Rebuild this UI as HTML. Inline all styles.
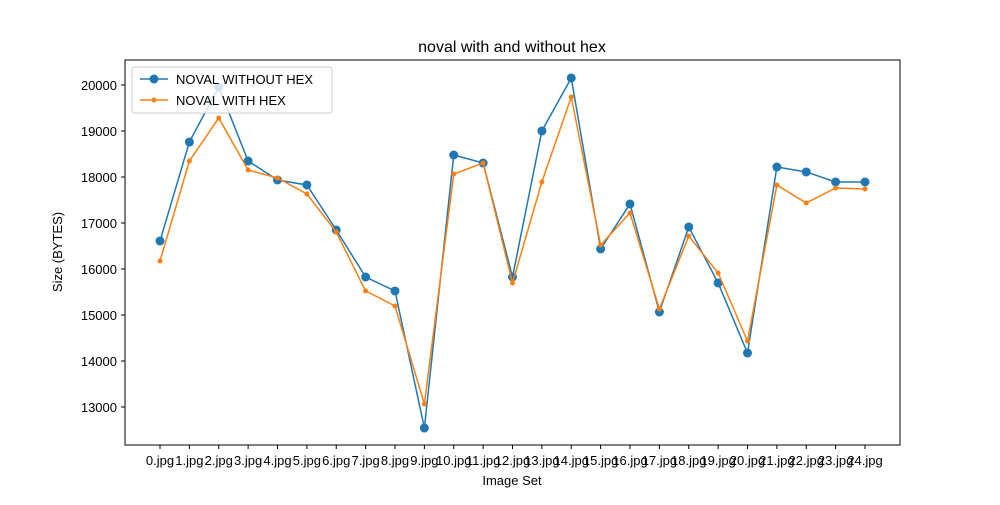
<!DOCTYPE html>
<html><head><meta charset="utf-8"><style>
body{margin:0;background:#fff;font-family:"Liberation Sans","DejaVu Sans",sans-serif}
svg text{font-family:"Liberation Sans","DejaVu Sans",sans-serif;font-size:13px;fill:#000}
</style></head><body>
<svg id="chart" width="1000" height="500">
<text x="512" y="52" text-anchor="middle" style="font-size:16px">noval with and without hex</text>
<g id="grid"></g>
<rect x="125" y="60" width="775" height="385" fill="none" stroke="#000" stroke-width="1"/>
<text x="512" y="485" text-anchor="middle">Image Set</text>
<text transform="translate(62,252) rotate(-90)" text-anchor="middle">Size (BYTES)</text>
<g id="series"></g>
<g>
<rect x="132" y="67" width="200" height="46" fill="#fff" fill-opacity="0.8" stroke="#ccc" rx="3"/>
<line x1="140" y1="79" x2="168" y2="79" stroke="#1f77b4" stroke-width="1.5"/><circle cx="154" cy="79" r="4.5" fill="#1f77b4"/>
<text x="176" y="84">NOVAL WITHOUT HEX</text>
<line x1="140" y1="100" x2="168" y2="100" stroke="#ff7f0e" stroke-width="1.5"/><circle cx="154" cy="100" r="2.5" fill="#ff7f0e"/>
<text x="176" y="105">NOVAL WITH HEX</text>
</g>
</svg>
<script>
const categories=["0.jpg","1.jpg","2.jpg","3.jpg","4.jpg","5.jpg","6.jpg","7.jpg","8.jpg","9.jpg","10.jpg","11.jpg","12.jpg","13.jpg","14.jpg","15.jpg","16.jpg","17.jpg","18.jpg","19.jpg","20.jpg","21.jpg","22.jpg","23.jpg","24.jpg"];
const withoutHex=[16609,18760,19957,18348,17935,17826,16848,15826,15522,12543,18478,18304,15826,19000,20152,16435,17413,15065,16913,15696,14174,18217,18109,17891,17891];
const withHex=[16174,18348,19283,18152,17978,17630,16804,15522,15196,13065,18065,18304,15696,17891,19739,16522,17217,15130,16717,15913,14435,17826,17435,17761,17739];
const yTicks=[13000,14000,15000,16000,17000,18000,19000,20000];
const NS="http://www.w3.org/2000/svg";
const yMin=12174,yMax=20543;
function xs(i){return 160+i*(865-160)/(categories.length-1);}
function ys(v){return 445-(v-yMin)/(yMax-yMin)*385;}
function mk(t,a,p){const e=document.createElementNS(NS,t);for(const k in a)e.setAttribute(k,a[k]);p.appendChild(e);return e;}
const g=document.getElementById('grid');
yTicks.forEach(v=>{
 const l=mk('line',{x1:121,x2:125,y1:ys(v),y2:ys(v),stroke:'#000'},g);
 
 
 const t=mk('text',{x:117,y:ys(v)+5,'text-anchor':'end'},g);t.textContent=v;
 
 
});
categories.forEach((c,i)=>{
 const l=mk('line',{x1:xs(i),x2:xs(i),y1:445,y2:449,stroke:'#000'},g);
 
 
 const t=mk('text',{x:xs(i),y:465,'text-anchor':'middle'},g);t.textContent=c;
 
 
});
const s=document.getElementById('series');
function draw(vals,color,r,name){
 const p=mk('polyline',{points:vals.map((v,i)=>xs(i)+','+ys(v)).join(' '),fill:'none',stroke:color,'stroke-width':1.5},s);
 
 
 vals.forEach((v,i)=>{const c=mk('circle',{cx:xs(i),cy:ys(v),r:r,fill:color},s);
 
 });
}
draw(withoutHex,'#1f77b4',4.5,'without-hex');
draw(withHex,'#ff7f0e',2.5,'with-hex');
</script>
</body></html>
